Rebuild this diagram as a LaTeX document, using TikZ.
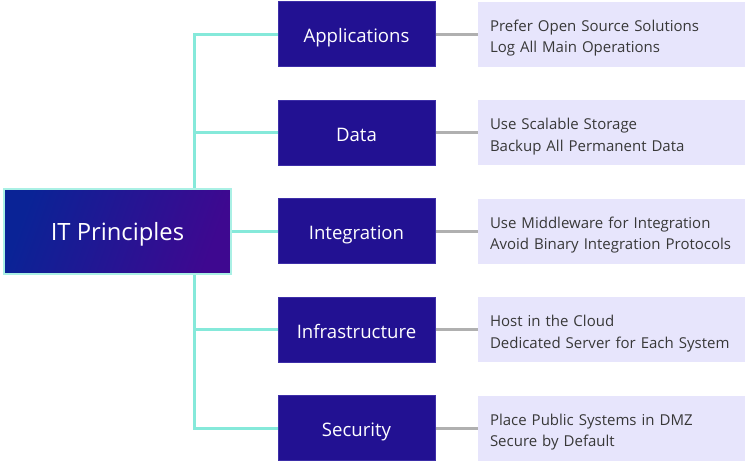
\documentclass[tikz,border=0pt]{standalone}
\usepackage{fontspec}
\setmainfont{Open Sans}
\usepackage{xcolor}
\usetikzlibrary{positioning,backgrounds}

\definecolor{indigo}{HTML}{221192}
\definecolor{indigoline}{HTML}{3D2EA8}
\definecolor{rootleft}{HTML}{0A2396}
\definecolor{rootright}{HTML}{3E0890}
\definecolor{aqua}{HTML}{85E9DA}
\definecolor{lavender}{HTML}{E7E5FC}
\definecolor{notetext}{HTML}{383838}
\definecolor{greyline}{HTML}{B0B0B0}

\begin{document}
\begin{tikzpicture}[x=1pt,y=1pt,node distance=98.5pt,on grid,
    root/.style={rectangle,draw=aqua!70,line width=2pt,left color=rootleft,right color=rootright,shading angle=70,
      minimum width=227pt,minimum height=85pt,text height=25pt,text depth=6pt,
      text=white,font=\fontsize{23.8}{28}\selectfont},
    cat/.style={rectangle,fill=indigo,draw=indigoline,line width=0.8pt,
      minimum width=157pt,minimum height=65pt,text height=21.6pt,text depth=4pt,
      text=white,font=\fontsize{18.6}{22}\selectfont},
    note/.style={rectangle,fill=lavender,minimum width=267pt,minimum height=65pt,
      inner xsep=12pt,text width=243pt,align=left,text=notetext,font=\fontsize{15}{21.5}\selectfont,
      execute at begin node={\rule{0pt}{20.4pt}},execute at end node={\rule[-4pt]{0pt}{4pt}}},
    trunk/.style={draw=aqua,line width=3pt},
    twig/.style={draw=greyline,line width=3pt}]
  \useasboundingbox (0,0) rectangle (750,-464);
  \node[root] (it) at (117.5,-231) {IT Principles};
  \node[cat] (apps)  at (356.5,-34)  {Applications};
  \node[cat] (data)  [below=of apps]  {Data};
  \node[cat] (integ) [below=of data]  {Integration};
  \node[cat] (infra) [below=of integ] {Infrastructure};
  \node[cat] (sec)   [below=of infra] {Security};
  \node[note] (apps_n)  [right=255pt of apps]  {Prefer Open Source Solutions\\Log All Main Operations};
  \node[note] (data_n)  [right=255pt of data]  {Use Scalable Storage\\Backup All Permanent Data};
  \node[note] (integ_n) [right=255pt of integ] {Use Middleware for Integration\\Avoid Binary Integration Protocols};
  \node[note] (infra_n) [right=255pt of infra] {Host in the Cloud\\Dedicated Server for Each System};
  \node[note] (sec_n)   [right=255pt of sec]   {Place Public Systems in DMZ\\Secure by Default};
  \coordinate (fork) at (194,-231);
  \begin{scope}[on background layer]
    % left side
    \draw[trunk] (apps.west) -| (fork) |- (sec.west);
    \draw[trunk] (data.west) -- (data.west -| fork);
    \draw[trunk] (infra.west) -- (infra.west -| fork);
    \draw[trunk] (it.east) -- (integ.west);
    % right side
    \draw[twig] (apps.east) -- (apps_n.west);
    \draw[twig] (data.east) -- (data_n.west);
    \draw[twig] (integ.east) -- (integ_n.west);
    \draw[twig] (infra.east) -- (infra_n.west);
    \draw[twig] (sec.east) -- (sec_n.west);
  \end{scope}
\end{tikzpicture}
\end{document}
